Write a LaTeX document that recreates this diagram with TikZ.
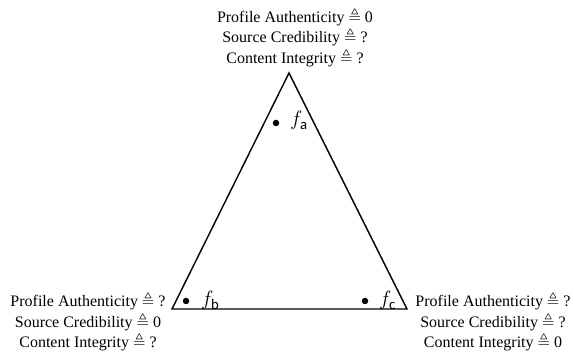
\documentclass[tikz,border=0pt]{standalone}
\usepackage{amsmath,amssymb}
\usepackage{fontspec}
\setmainfont{Liberation Serif}
\setsansfont{Carlito}
\usetikzlibrary{positioning,calc}

\begin{document}
\begin{tikzpicture}[x=1pt,y=-1pt,
    cred label/.style={align=center, inner sep=0pt, anchor=base, font=\fontsize{16}{20.5}\selectfont},
    vertex dot/.style={circle, fill=black, inner sep=0pt, minimum size=6.5pt},
    fake label/.style={inner sep=0pt, anchor=base west, font=\fontsize{21}{24}\selectfont}]
    \useasboundingbox (0,0) rectangle (573,352);

    % triangle
    \coordinate (A) at (289,73);
    \coordinate (B) at (172,309);
    \coordinate (C) at (407,309);
    \draw[line width=1.4pt, line join=miter] (A) -- (B) -- (C) -- cycle;

    % accounts
    \node[vertex dot] (Da) at (276,123) {};
    \node[vertex dot] (Db) at (186,301) {};
    \node[vertex dot] (Dc) at (365,301) {};
    \node[fake label] (Fa) at (290,126) {$f_{\textsf{a}}$};
    \node[fake label] (Fb) at (201,306) {$f_{\textsf{b}}$};
    \node[fake label] (Fc) at (379,306) {$f_{\textsf{c}}$};

    % credibility labels (base = last line)
    \node[cred label] (La) at (295,63.3) {Profile Authenticity $\triangleq$ 0\\Source Credibility $\triangleq$ ?\\Content Integrity $\triangleq$ ?};
    \node[cred label] (Lb) at (88,348) {Profile Authenticity $\triangleq$ ?\\Source Credibility $\triangleq$ 0\\Content Integrity $\triangleq$ ?};
    \node[cred label] (Lc) at (493,348) {Profile Authenticity $\triangleq$ ?\\Source Credibility $\triangleq$ ?\\Content Integrity $\triangleq$ 0};
\end{tikzpicture}
\end{document}
